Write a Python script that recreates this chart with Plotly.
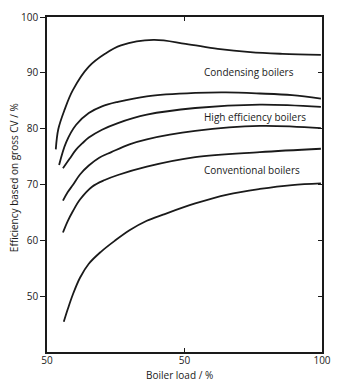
import plotly.graph_objects as go

# Boiler load (%) vs efficiency (% gross CV)
c1_x = [3.2, 4.1, 6.4, 9.4, 15.2, 21.1, 26.9, 38.7, 50.4, 62.1, 73.9, 85.6, 99.6]
c1_y = [76.3, 79.9, 83.4, 86.9, 91.1, 93.4, 94.9, 95.9, 95.2, 94.3, 93.7, 93.4, 93.2]

c2_x = [4.4, 7.0, 10.6, 15.2, 20.0, 25.8, 36.3, 53.9, 65.0, 77.4, 89.1, 99.6]
c2_y = [73.5, 77.6, 80.7, 82.8, 84.0, 84.8, 85.8, 86.4, 86.5, 86.3, 86.0, 85.4]

c3_x = [5.8, 8.2, 10.5, 12.9, 15.2, 20.0, 25.8, 36.3, 53.9, 77.4, 99.6]
c3_y = [72.9, 74.6, 76.2, 77.4, 78.4, 79.8, 81.0, 82.5, 83.7, 84.3, 83.9]

c4_x = [5.8, 7.5, 9.4, 12.0, 15.2, 19.0, 23.4, 30.0, 36.3, 53.9, 77.4, 99.6]
c4_y = [67.1, 68.6, 69.9, 71.8, 73.4, 74.8, 75.8, 77.2, 78.1, 79.6, 80.5, 80.1]

c5_x = [5.8, 7.5, 9.4, 12.0, 16.4, 21.0, 25.8, 36.3, 53.9, 77.4, 99.6]
c5_y = [61.4, 63.4, 65.2, 67.3, 69.6, 70.8, 71.7, 73.2, 74.9, 75.8, 76.4]

c6_x = [6.1, 7.5, 9.4, 12.0, 15.2, 19.5, 24.6, 30.0, 36.3, 42.2, 53.9, 65.6, 77.4, 89.1, 99.6]
c6_y = [45.4, 47.6, 50.3, 53.3, 55.8, 57.9, 59.9, 61.8, 63.5, 64.6, 66.6, 68.2, 69.2, 69.9, 70.2]

labels = ["Condensing boilers", "High efficiency boilers", "Conventional boilers"]
label_x = [73.3, 75.8, 74.4]
label_y = [90.1, 82.1, 72.6]

x_tickvals = [0, 50, 100]
x_ticktext = ["50", "50", "100"]
y_tickvals = [50, 60, 70, 80, 90, 100]

FONT = "Open Sans"
INK = "#1a1a1a"

fig = go.Figure()
for xs, ys in [(c1_x, c1_y), (c2_x, c2_y), (c3_x, c3_y),
               (c4_x, c4_y), (c5_x, c5_y), (c6_x, c6_y)]:
    fig.add_trace(go.Scatter(x=xs, y=ys, mode="lines",
                             line=dict(color=INK, width=1.8, shape="spline", smoothing=1.0),
                             showlegend=False, hoverinfo="skip"))

# invisible trace to hold the right-hand axis (inside ticks)
fig.add_trace(go.Scatter(x=[50], y=[70], yaxis="y2", mode="markers",
                         marker=dict(opacity=0), showlegend=False, hoverinfo="skip"))

for t, lx, ly in zip(labels, label_x, label_y):
    fig.add_annotation(x=lx, y=ly, text=t, showarrow=False,
                       font=dict(family=FONT, size=10, color=INK))

fig.add_annotation(x=48.1, y=0, xref="x", yref="paper", yshift=-23,
                   text="Boiler load / %", showarrow=False, yanchor="middle",
                   borderpad=0,
                   font=dict(family=FONT, size=10, color=INK))
fig.add_annotation(x=0, y=0.519, xref="paper", yref="paper", xshift=-33,
                   text="Efficiency based on gross CV / %", textangle=-90,
                   showarrow=False, xanchor="center", yanchor="middle",
                   font=dict(family=FONT, size=10, color=INK))

fig.update_layout(
    width=340, height=382, autosize=False,
    margin=dict(l=47, r=9, t=12, b=30),
    paper_bgcolor="white", plot_bgcolor="white",
    font=dict(family=FONT, size=10, color=INK),
    xaxis=dict(range=[0, 100], tickvals=x_tickvals, ticktext=x_ticktext,
               ticks="inside", ticklen=4, tickcolor=INK, mirror="ticks",
               ticklabelstandoff=-2,
               showline=True, linecolor=INK, linewidth=1.5, showgrid=False,
               zeroline=False, tickfont=dict(family=FONT, size=10, color=INK)),
    yaxis=dict(range=[40, 100], tickvals=y_tickvals,
               ticks="outside", ticklen=5, tickcolor=INK, mirror=True,
               showline=True, linecolor=INK, linewidth=1.5, showgrid=False,
               zeroline=False, tickfont=dict(family=FONT, size=10, color=INK)),
    yaxis2=dict(range=[40, 100], tickvals=y_tickvals, overlaying="y", side="right",
                ticks="inside", ticklen=4, tickcolor=INK, showticklabels=False,
                showline=False, showgrid=False, zeroline=False),
)

fig.write_html("out.html")
